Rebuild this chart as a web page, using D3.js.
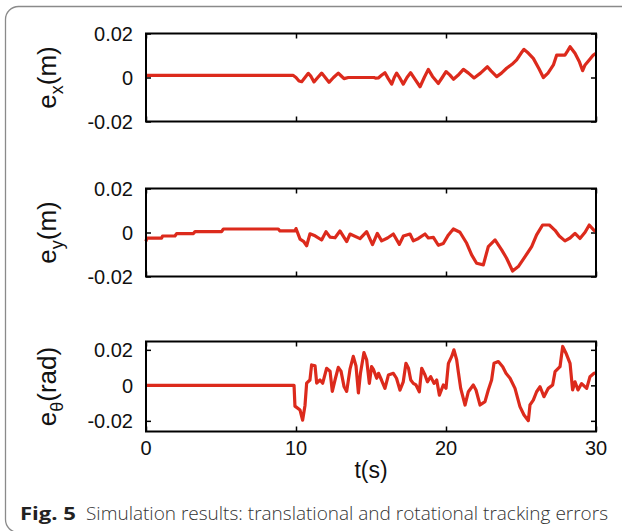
<!DOCTYPE html>
<html><head><meta charset="utf-8">
<script src="https://cdn.jsdelivr.net/npm/d3@7"></script>
<style>
html,body{margin:0;padding:0;background:#fff;}
svg{display:block;}
</style></head>
<body>
<svg id="chart" width="622" height="531"></svg>
<script>
// ---- data ----
const xTicks = [0, 10, 20, 30];
const yTicks = [-0.02, 0, 0.02];
const yTickLabels = ["-0.02", "0", "0.02"];

const exData = [[0,0.001],[9.8,0.001],[10.0,0.0],[10.2,-0.0016],[10.38,-0.0019],[10.6,0.0],[10.82,0.0019],[11.0,0.0005],[11.2,-0.002],[11.45,0.0],[11.71,0.002],[11.95,0.0],[12.2,-0.0022],[12.5,0.0],[12.82,0.002],[13.0,0.0008],[13.2,-0.0005],[13.49,0.0],[15.2,0.0],[15.3,-0.0003],[15.49,-0.0002],[15.7,0.001],[15.93,0.0022],[16.15,-0.0005],[16.38,-0.003],[16.55,0.0],[16.71,0.002],[16.9,0.0],[17.15,-0.003],[17.4,0.0],[17.64,0.0022],[17.95,-0.001],[18.27,-0.0042],[18.55,0.0],[18.82,0.0037],[19.1,0.0005],[19.49,-0.0027],[19.75,0.0],[20.0,0.0027],[20.25,0.0012],[20.5,-0.0008],[20.8,0.001],[21.16,0.0037],[21.5,0.002],[21.87,-0.0002],[22.3,0.002],[22.76,0.0049],[23.0,0.003],[23.38,0.0004],[23.7,0.002],[24.04,0.0042],[24.4,0.006],[24.71,0.008],[25.0,0.011],[25.2,0.0128],[25.5,0.011],[25.82,0.0087],[26.2,0.004],[26.49,0.0],[26.8,0.002],[27.16,0.0057],[27.38,0.0102],[27.93,0.0102],[28.1,0.012],[28.27,0.014],[28.6,0.011],[28.9,0.007],[29.11,0.0031],[29.27,0.0057],[29.55,0.008],[29.82,0.0102],[30,0.011]];

const eyData = [[0,-0.004],[0.05,-0.0026],[1.04,-0.0026],[1.1,-0.0016],[1.93,-0.0016],[2.04,-0.0005],[3.16,-0.0005],[3.27,0.0004],[5.04,0.0004],[5.16,0.0016],[8.82,0.0016],[8.93,0.0007],[9.93,0.0007],[10.0,0.0018],[10.27,-0.003],[10.5,-0.004],[10.71,-0.006],[10.93,-0.0006],[11.27,-0.0015],[11.71,-0.0034],[12.0,0.0004],[12.27,-0.0021],[12.6,-0.0024],[12.93,0.0007],[13.38,-0.0041],[13.6,-0.0007],[14.27,-0.0028],[14.71,0.0004],[15.1,-0.0055],[15.42,-0.0004],[15.71,-0.0038],[16.1,-0.0025],[16.49,-0.0007],[16.89,-0.0054],[17.16,-0.0016],[17.6,-0.0007],[17.82,-0.0038],[18.16,-0.0027],[18.6,-0.0007],[18.82,-0.0025],[19.16,-0.0022],[19.49,-0.0058],[19.82,-0.005],[20.16,-0.0011],[20.49,0.0016],[20.93,0.0001],[21.38,-0.0049],[21.71,-0.0102],[22.04,-0.014],[22.49,-0.0147],[22.82,-0.0064],[23.27,-0.0034],[23.71,-0.0079],[24.04,-0.0117],[24.44,-0.0175],[24.82,-0.0155],[25.27,-0.011],[25.71,-0.0064],[26.04,-0.0011],[26.44,0.0034],[26.89,0.0034],[27.27,0.001],[27.55,-0.0016],[27.93,-0.0038],[28.27,-0.0025],[28.6,-0.0004],[28.93,-0.0027],[29.27,0.0001],[29.55,0.0034],[29.87,0.001],[30,0.0005]];

const ethData = [[0,0],[9.87,0],[9.93,-0.0117],[10.27,-0.0139],[10.44,-0.0196],[10.6,-0.0113],[10.71,0.0012],[10.93,0.003],[11.04,0.0115],[11.27,0.011],[11.38,0.0012],[11.6,0.003],[11.78,0.0012],[12.04,0.0096],[12.27,0.008],[12.42,-0.0034],[12.6,0.003],[12.82,0.0101],[13.0,0.008],[13.2,-0.0006],[13.38,-0.0034],[13.6,0.0091],[13.82,0.0163],[14.0,0.011],[14.16,-0.0043],[14.3,0.007],[14.53,0.0185],[14.71,0.0144],[14.89,0.0011],[15.04,0.0106],[15.16,0.009],[15.38,0.004],[15.5,0.0068],[15.7,0.003],[15.93,-0.0017],[16.16,0.0058],[16.49,0.0068],[16.7,0.004],[16.93,-0.0027],[17.15,0.002],[17.33,0.0124],[17.5,0.0096],[17.65,0.003],[17.82,0.0011],[18.0,0.0002],[18.22,-0.0036],[18.38,0.0096],[18.6,0.0058],[18.76,0.002],[18.98,0.0049],[19.2,0.0011],[19.38,0.003],[19.56,-0.0055],[19.82,0.0002],[20.0,-0.0017],[20.16,0.0124],[20.38,0.0163],[20.53,0.02],[20.71,0.0144],[20.82,0.0077],[20.98,-0.0017],[21.27,-0.0111],[21.49,-0.0036],[21.82,0.0002],[22.0,-0.0026],[22.27,-0.0111],[22.6,-0.0092],[22.82,-0.0026],[23.04,0.003],[23.2,0.0124],[23.49,0.0134],[23.78,0.0105],[24.0,0.0068],[24.27,0.004],[24.6,-0.0017],[24.93,-0.012],[25.2,-0.0167],[25.49,-0.0199],[25.6,-0.011],[25.82,-0.0083],[26.04,-0.0036],[26.27,-0.0008],[26.53,-0.0064],[26.82,-0.0017],[27.11,0.0002],[27.27,0.0077],[27.6,0.0105],[27.78,0.0219],[28.0,0.0181],[28.27,0.0124],[28.44,-0.0026],[28.6,0.002],[28.8,-0.0026],[29.04,0.001],[29.38,-0.0017],[29.6,0.0049],[29.87,0.0068],[30,0.007]];

const yLabels = [
  {main: "e", sub: "x", unit: "(m)"},
  {main: "e", sub: "y", unit: "(m)"},
  {main: "e", sub: "θ", unit: "(rad)"}
];
const xLabel = "t(s)";
const captionBold = "Fig. 5";
const captionText = "Simulation results: translational and rotational tracking errors";

// ---- drawing ----
const svg = d3.select("#chart");
const FONT = "'Liberation Sans', Arial, Helvetica, sans-serif";
const CAPFONT = "'Open Sans', 'Noto Sans', sans-serif";
const RED = "#dc2a1c";

svg.append("rect").attr("x", 5.5).attr("y", 6.5).attr("width", 700).attr("height", 526)
  .attr("rx", 13).attr("fill", "none").attr("stroke", "#8a8a8a").attr("stroke-width", 1.3);

const x = d3.scaleLinear().domain([0, 30]).range([146, 596]);

const panels = [
  {data: exData, top: 33.5, bottom: 121.5, domain: [-0.02, 0.02], label: yLabels[0]},
  {data: eyData, top: 188.5, bottom: 276.5, domain: [-0.02, 0.02], label: yLabels[1]},
  {data: ethData, top: 341.5, bottom: 431.5, domain: [-0.026, 0.0247], label: yLabels[2]}
];

panels.forEach((p, i) => {
  const y = d3.scaleLinear().domain(p.domain).range([p.bottom, p.top]);
  const g = svg.append("g");

  const tickLen = 5;
  const axB = d3.axisTop(x).tickValues(xTicks).tickSize(tickLen).tickFormat("");
  const axT = d3.axisBottom(x).tickValues(xTicks).tickSize(tickLen).tickFormat("");
  const axL = d3.axisRight(y).tickValues(yTicks).tickSize(tickLen).tickFormat("");
  const axR = d3.axisLeft(y).tickValues(yTicks).tickSize(tickLen).tickFormat("");
  [[axB, `translate(0,${p.bottom})`], [axT, `translate(0,${p.top})`],
   [axL, `translate(${x(0)},0)`], [axR, `translate(${x(30)},0)`]].forEach(([ax, tr]) => {
    const a = g.append("g").attr("transform", tr).call(ax);
    a.select(".domain").remove();
    a.selectAll("line").attr("stroke", "#000").attr("stroke-width", 1.5);
  });

  g.selectAll(".ylab").data(yTicks).enter().append("text")
    .attr("x", 133).attr("y", d => y(d)).attr("dy", "0.36em")
    .attr("text-anchor", "end").attr("font-family", FONT).attr("font-size", 20)
    .attr("fill", "#111").text((d, j) => yTickLabels[j]);

  const line = d3.line().x(d => x(d[0])).y(d => y(d[1]));
  g.append("path").datum(p.data).attr("d", line).attr("fill", "none")
    .attr("stroke", RED).attr("stroke-width", 3.2).attr("stroke-linejoin", "round");

  g.append("rect").attr("x", x(0)).attr("y", p.top).attr("width", x(30) - x(0))
    .attr("height", p.bottom - p.top).attr("fill", "none").attr("stroke", "#000").attr("stroke-width", 2);

  const cy = (p.top + p.bottom) / 2;
  const t = svg.append("text").attr("transform", `translate(56,${cy}) rotate(-90)`)
    .attr("text-anchor", "middle").attr("font-family", FONT).attr("font-size", 26).attr("fill", "#111");
  t.append("tspan").text(p.label.main);
  t.append("tspan").attr("font-size", 18).attr("dy", 7).text(p.label.sub);
  t.append("tspan").attr("dy", -7).text(p.label.unit);
});

svg.selectAll(".xlab").data(xTicks).enter().append("text")
  .attr("x", d => x(d)).attr("y", 454.5).attr("text-anchor", "middle")
  .attr("font-family", FONT).attr("font-size", 20).attr("fill", "#111").text(d => d);

svg.append("text").attr("x", x(15)).attr("y", 478).attr("text-anchor", "middle")
  .attr("font-family", FONT).attr("font-size", 23).attr("fill", "#111").text(xLabel);

svg.append("text").attr("x", 20).attr("y", 520).attr("font-family", CAPFONT)
  .attr("font-size", 18).attr("font-weight", "bold").attr("fill", "#222")
  .attr("textLength", 56).attr("lengthAdjust", "spacingAndGlyphs").text(captionBold);
svg.append("text").attr("x", 86).attr("y", 520).attr("font-family", CAPFONT)
  .attr("font-size", 19).attr("font-weight", 300).attr("fill", "#333")
  .attr("textLength", 522).attr("lengthAdjust", "spacingAndGlyphs").text(captionText);
</script>
</body></html>
